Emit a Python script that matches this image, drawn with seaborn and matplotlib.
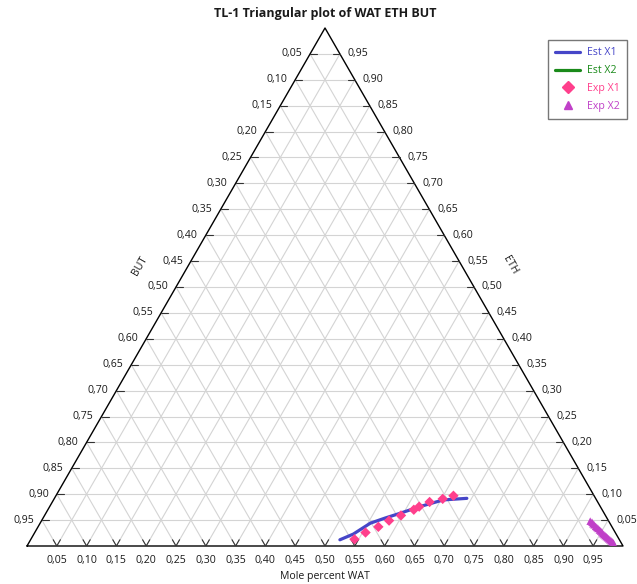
import numpy as np
import pandas as pd
import matplotlib
matplotlib.use("Agg")
import matplotlib.pyplot as plt
from matplotlib.lines import Line2D
import seaborn as sns

# mole fractions (WAT, ETH; BUT = 1 - WAT - ETH)
est_x1_wat = [0.519, 0.536, 0.554, 0.574, 0.594, 0.621, 0.654, 0.692]
est_x1_eth = [0.012, 0.023, 0.044, 0.054, 0.063, 0.076, 0.089, 0.092]
est_x2_wat = [0.925, 0.937, 0.952, 0.967, 0.982]
est_x2_eth = [0.045, 0.034, 0.024, 0.014, 0.005]
exp_x1_wat = [0.543, 0.555, 0.571, 0.583, 0.598, 0.614, 0.620, 0.633, 0.652, 0.667]
exp_x1_eth = [0.013, 0.026, 0.037, 0.049, 0.059, 0.070, 0.076, 0.085, 0.091, 0.097]
exp_x2_wat = [0.921, 0.925, 0.928, 0.931, 0.935, 0.938, 0.941, 0.945, 0.948, 0.951,
              0.954, 0.957, 0.960, 0.963, 0.966, 0.969, 0.972, 0.975, 0.978, 0.981]
exp_x2_eth = [0.048, 0.046, 0.043, 0.041, 0.038, 0.036, 0.034, 0.031, 0.029, 0.027,
              0.024, 0.022, 0.020, 0.018, 0.016, 0.014, 0.012, 0.010, 0.008, 0.006]

ticks = np.arange(1, 20) / 20
H = np.sqrt(3) / 2

c_blue, c_green, c_pink, c_purple = "#4646c8", "#1a8a1a", "#ff3f8c", "#c040c8"


def tern(wat, eth):
    wat = np.asarray(wat); eth = np.asarray(eth)
    return pd.DataFrame({"x": wat + eth / 2, "y": eth * H})


sns.set_style("white")
plt.rcParams["font.family"] = ["Open Sans", "DejaVu Sans"]
plt.rcParams["text.color"] = "#1a1a1a"
fs = 7.6

fig = plt.figure(figsize=(6.37, 5.84), dpi=100)
ax = fig.add_axes([27 / 637, 38 / 584, 596 / 637, 518 / 584])
ax.set_xlim(0, 1)
ax.set_ylim(0, H)
ax.axis("off")

# grid
gc = "#d4d4d4"
for f in ticks:
    ax.plot([f / 2, 1 - f / 2], [f * H, f * H], color=gc, lw=0.8, zorder=1)
    ax.plot([f, f + (1 - f) / 2], [0, (1 - f) * H], color=gc, lw=0.8, zorder=1)
    ax.plot([1 - f, (1 - f) / 2], [0, (1 - f) * H], color=gc, lw=0.8, zorder=1)

# triangle frame
ax.plot([0, 1, 0.5, 0], [0, 0, H, 0], color="black", lw=1.0, zorder=3, clip_on=False)

# ticks and labels
tl = 0.012
for f in ticks:
    lab = f"{f:.2f}".replace(".", ",")
    # bottom (WAT)
    ax.plot([f - tl / 2, f, f + tl / 2], [tl * H, 0, tl * H], color="#333333", lw=0.8, zorder=3)
    ax.annotate(lab, (f, 0), xytext=(0, -14), textcoords="offset pixels",
                ha="center", va="center", fontsize=fs)
    # left (BUT): point with BUT = f, ETH = 1 - f
    e = 1 - f
    ax.plot([e / 2, e / 2 + tl], [e * H, e * H], color="#333333", lw=0.8, zorder=3)
    ax.annotate(lab, (e / 2, e * H), xytext=(-8, 0), textcoords="offset pixels",
                ha="right", va="center", fontsize=fs)
    # right (ETH): point with ETH = f
    ax.plot([1 - f / 2, 1 - f / 2 - tl], [f * H, f * H], color="#333333", lw=0.8, zorder=3)
    ax.annotate(lab, (1 - f / 2, f * H), xytext=(8, 0), textcoords="offset pixels",
                ha="left", va="center", fontsize=fs)

# data
sns.lineplot(data=tern(est_x1_wat, est_x1_eth), x="x", y="y", sort=False, estimator=None,
             color=c_blue, lw=2.3, ax=ax, zorder=4)
sns.lineplot(data=tern(est_x2_wat, est_x2_eth), x="x", y="y", sort=False, estimator=None,
             color=c_green, lw=2.3, ax=ax, zorder=4)
sns.scatterplot(data=tern(exp_x1_wat, exp_x1_eth), x="x", y="y", marker="D", s=28,
                color=c_pink, edgecolor="none", ax=ax, zorder=5)
sns.scatterplot(data=tern(exp_x2_wat, exp_x2_eth), x="x", y="y", marker="^", s=30,
                color=c_purple, edgecolor="none", ax=ax, zorder=5)
ax.set_xlabel("")
ax.set_ylabel("")

# titles
fig.text(325 / 637, 1 - 14 / 584, "TL-1 Triangular plot of WAT ETH BUT",
         ha="center", va="center", fontsize=9, fontweight="bold")
fig.text(325 / 637, 1 - 577 / 584, "Mole percent WAT", ha="center", va="center", fontsize=fs)
fig.text(140 / 637, 1 - 266 / 584, "BUT", ha="center", va="center", fontsize=fs, rotation=60)
fig.text(510 / 637, 1 - 265 / 584, "ETH", ha="center", va="center", fontsize=fs, rotation=-60)

# legend
handles = [Line2D([], [], color=c_blue, lw=2.3),
           Line2D([], [], color=c_green, lw=2.3),
           Line2D([], [], color=c_pink, marker="D", ls="none", ms=6),
           Line2D([], [], color=c_purple, marker="^", ls="none", ms=6)]
labels = ["Est X1", "Est X2", "Exp X1", "Exp X2"]
leg = fig.legend(handles, labels, loc="upper right", bbox_to_anchor=(627 / 637, 1 - 40 / 584),
                 borderaxespad=0, fontsize=fs, frameon=True, fancybox=False, edgecolor="#555555",
                 handlelength=2.4, borderpad=0.7, labelspacing=0.65, handletextpad=0.6)
leg.get_frame().set_linewidth(1.0)
for txt, col in zip(leg.get_texts(), [c_blue, c_green, c_pink, c_purple]):
    txt.set_color(col)

fig.savefig("out.png", dpi=100)
